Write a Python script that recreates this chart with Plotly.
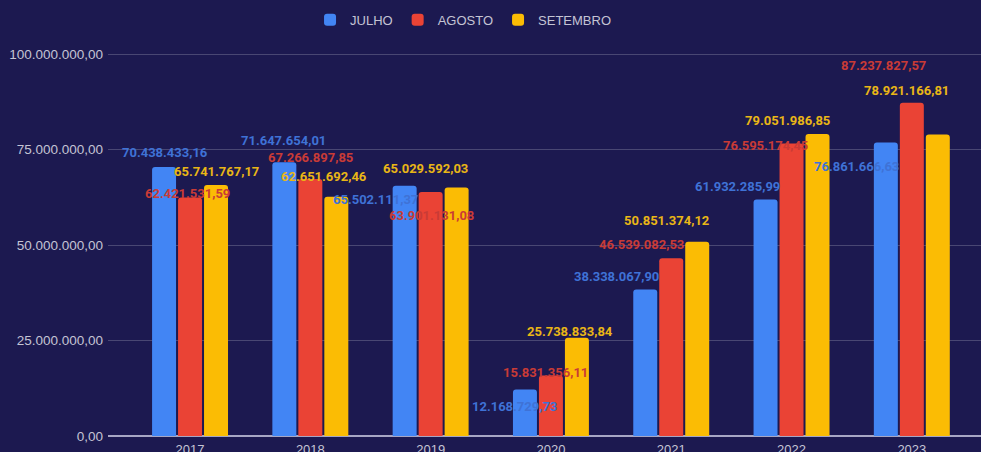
import plotly.graph_objects as go

anos = ["2017", "2018", "2019", "2020", "2021", "2022", "2023"]
julho = [70438433.16, 71647654.01, 65502111.37, 12168729.73, 38338067.90, 61932285.99, 76861666.63]
agosto = [62421531.59, 67266897.85, 63901131.08, 15831356.11, 46539082.53, 76595174.45, 87237827.57]
setembro = [65741767.17, 62651692.46, 65029592.03, 25738833.84, 50851374.12, 79051986.85, 78921166.81]
y_ticks = [0, 25000000, 50000000, 75000000, 100000000]

# label pixel offsets (styling only): (dx from group centre, dy above bar top)
off_julho = [(-25, 14), (-27, 22), (-55, -14), (-36, -17), (-55, 13), (-54, 13), (-55, -24)]
off_agosto = [(-3, 4), (0, 22), (1, -24), (-5, 3), (-30, 14), (-26, -2), (-28, 37)]
off_setembro = [(26, 13), (14, 20), (-5, 19), (19, 6), (-5, 21), (-4, 14), (-5, 44)]

BG = "#1c1950"
AXIS_FONT = "Liberation Sans, Arial, sans-serif"
series = [
    ("JULHO", julho, "#4285F4", "#3f72d6", off_julho),
    ("AGOSTO", agosto, "#EA4335", "#c93b36", off_agosto),
    ("SETEMBRO", setembro, "#FBBC04", "#e9b616", off_setembro),
]

def fmt(v):
    s = f"{v:,.2f}"
    return s.replace(",", "X").replace(".", ",").replace("X", ".")

fig = go.Figure()
annotations = []
for name, vals, col, lcol, offs in series:
    fig.add_trace(go.Bar(
        name=name, x=anos, y=vals, marker=dict(color=col, cornerradius=3, line=dict(width=0)),
        hoverinfo="skip",
    ))
    for i, (v, (dx, dy)) in enumerate(zip(vals, offs)):
        annotations.append(dict(
            x=i, y=v, xref="x", yref="y", text="<b>" + fmt(v) + "</b>", showarrow=False,
            xshift=dx, yshift=dy, xanchor="center", yanchor="middle",
            font=dict(family="Roboto", size=13, color=lcol),
        ))

fig.update_layout(
    width=981, height=452,
    paper_bgcolor=BG, plot_bgcolor=BG,
    margin=dict(l=108, r=0, t=51, b=16),
    barmode="group", bargap=0.352, bargroupgap=0.077,
    separators=",.",
    annotations=annotations,
    legend=dict(
        orientation="h", xref="container", yref="container",
        x=0.472, xanchor="center", y=0.956, yanchor="middle",
        font=dict(family=AXIS_FONT, size=13, color="#c4c4d4"),
        bgcolor="rgba(0,0,0,0)", itemwidth=30,
    ),
    xaxis=dict(
        type="category", range=[-0.682, 6.575], automargin=False,
        showgrid=False, showline=False, zeroline=False,
        tickfont=dict(family=AXIS_FONT, size=13, color="#c4c4d4"),
        ticks="", ticklabelstandoff=4,
    ),
    yaxis=dict(
        range=[0, 100800000], tickvals=y_ticks, tickformat=",.2f", automargin=False,
        showgrid=True, gridcolor="rgba(255,255,255,0.2)", gridwidth=1,
        zeroline=True, zerolinecolor="#a7a6c4", zerolinewidth=2,
        showline=False, ticks="", ticklabelstandoff=4,
        tickfont=dict(family=AXIS_FONT, size=13.5, color="#c4c4d4"),
    ),
    showlegend=True,
)

fig.write_html("out.html", config={"displayModeBar": False},
               post_script="document.body.style.margin='0';document.body.style.overflow='hidden';")
